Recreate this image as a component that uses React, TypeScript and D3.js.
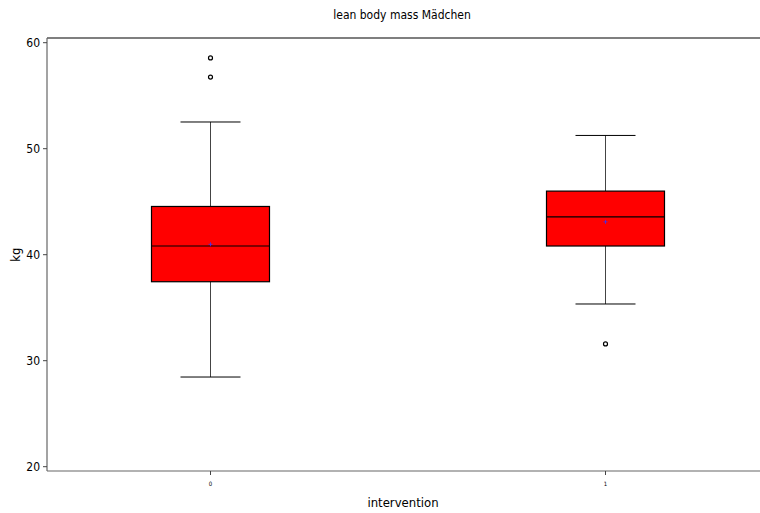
import React from "react";
import * as d3 from "d3";

const categories = ["0", "1"];
const q1 = [37.45, 40.82];
const medians = [40.82, 43.56];
const q3 = [44.55, 46.0];
const whiskerLow = [28.46, 35.35];
const whiskerHigh = [52.52, 51.25];
const means = [40.98, 43.1];
const outliers: [number, number][] = [
  [0, 58.56],
  [0, 56.76],
  [1, 31.58],
];
const yTicks = [20, 30, 40, 50, 60];

const W = 760;
const H = 513;
const left = 47;
const right = 760;
const top = 38;
const bottom = 471;

export default function App() {
  const y = d3.scaleLinear().domain([20, 60]).range([466.7, 42.7]);
  const x = d3.scalePoint<string>().domain(categories).range([210.5, 605.5]);
  const bw = 118;
  const font = "'DejaVu Sans Condensed', 'DejaVu Sans', sans-serif";
  return (
    <svg
      width={W}
      height={H}
      style={{ position: "absolute", left: 0, top: 0, fontStretch: "condensed" }}
      fontFamily={font}
    >
      <rect x={0} y={0} width={W} height={H} fill="#fff" />
      <text x={402} y={19} textAnchor="middle" fontSize={12} fill="#000">
        lean body mass Mädchen
      </text>
      {/* frame */}
      <line x1={left} x2={right} y1={top} y2={top} stroke="#000" strokeWidth={1.2} />
      <line x1={left} x2={left} y1={top} y2={bottom} stroke="#666" strokeWidth={1.2} />
      <line x1={left} x2={right} y1={bottom} y2={bottom} stroke="#666" strokeWidth={1.2} />
      {/* y ticks */}
      {yTicks.map((t) => (
        <g key={t}>
          <line x1={left - 4} x2={left} y1={y(t)} y2={y(t)} stroke="#444" />
          <text
            x={left - 7}
            y={y(t)}
            dy="0.35em"
            textAnchor="end"
            fontSize={12}
            fill="#000"
          >
            {t}
          </text>
        </g>
      ))}
      <text
        transform={`translate(20,${y(40)}) rotate(-90)`}
        textAnchor="middle"
        fontSize={13}
        fill="#000"
      >
        kg
      </text>
      {/* x ticks */}
      {categories.map((c) => (
        <g key={c}>
          <line x1={x(c)!} x2={x(c)!} y1={bottom} y2={bottom + 4} stroke="#444" />
          <text x={x(c)!} y={bottom + 15} textAnchor="middle" fontSize={6} fill="#000">
            {c}
          </text>
        </g>
      ))}
      <text x={403} y={507} textAnchor="middle" fontSize={13} fill="#000">
        intervention
      </text>
      {/* boxes */}
      {categories.map((c, i) => {
        const cx = x(c)!;
        return (
          <g key={c}>
            <line x1={cx} x2={cx} y1={y(q3[i])} y2={y(whiskerHigh[i])} stroke="#444" strokeWidth={1} />
            <line x1={cx} x2={cx} y1={y(q1[i])} y2={y(whiskerLow[i])} stroke="#444" strokeWidth={1} />
            <line x1={cx - 30} x2={cx + 30} y1={y(whiskerHigh[i])} y2={y(whiskerHigh[i])} stroke="#000" />
            <line x1={cx - 30} x2={cx + 30} y1={y(whiskerLow[i])} y2={y(whiskerLow[i])} stroke="#000" />
            <rect
              x={cx - bw / 2}
              y={y(q3[i])}
              width={bw}
              height={y(q1[i]) - y(q3[i])}
              fill="#ff0000"
              stroke="#000"
              strokeWidth={1.2}
            />
            <line x1={cx - bw / 2} x2={cx + bw / 2} y1={y(medians[i])} y2={y(medians[i])} stroke="#000" strokeWidth={1.2} />
            <g stroke="#3333ff" strokeWidth={0.8}>
              <line x1={cx - 2} x2={cx + 2} y1={y(means[i])} y2={y(means[i])} />
              <line x1={cx} x2={cx} y1={y(means[i]) - 2} y2={y(means[i]) + 2} />
            </g>
          </g>
        );
      })}
      {outliers.map(([g, v], i) => (
        <circle
          key={i}
          cx={x(categories[g])!}
          cy={y(v)}
          r={2}
          fill="none"
          stroke="#000"
          strokeWidth={1.2}
        />
      ))}
    </svg>
  );
}
